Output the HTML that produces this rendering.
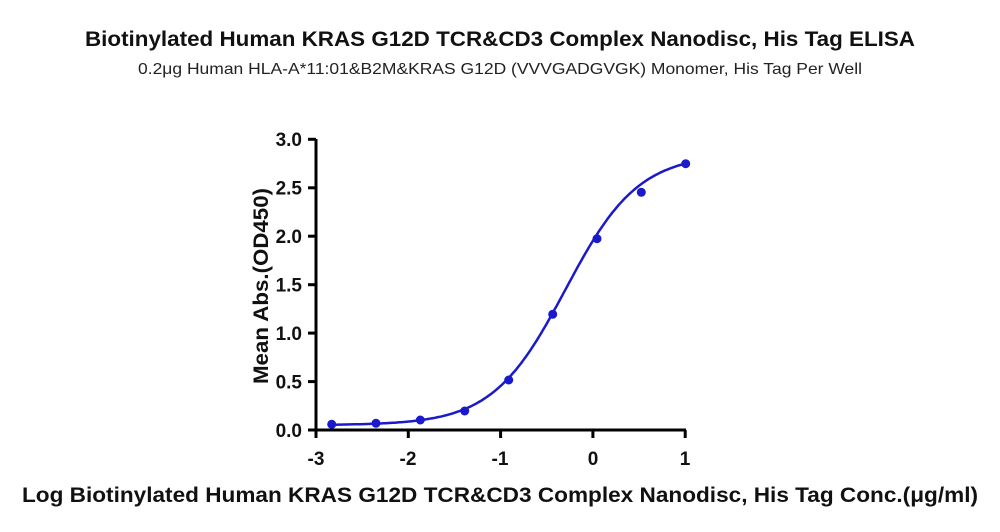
<!DOCTYPE html>
<html><head><meta charset="utf-8"><style>
body{margin:0;background:#fff;width:1000px;height:527px;overflow:hidden}
text{font-family:"Liberation Sans",sans-serif}
</style></head><body>
<svg id="s" width="1000" height="527" viewBox="0 0 1000 527" xmlns="http://www.w3.org/2000/svg">
<text x="500" y="46" text-anchor="middle" font-size="21" font-weight="bold" fill="#111" textLength="830" lengthAdjust="spacingAndGlyphs">Biotinylated Human KRAS G12D TCR&amp;CD3 Complex Nanodisc, His Tag ELISA</text>
<text x="500" y="74" text-anchor="middle" font-size="16" fill="#222" textLength="724" lengthAdjust="spacingAndGlyphs">0.2μg Human HLA-A*11:01&amp;B2M&amp;KRAS G12D (VVVGADGVGK) Monomer, His Tag Per Well</text>
<g stroke="#000" stroke-width="3" fill="none">
<line x1="316" y1="139" x2="316" y2="431.5"/>
<line x1="314.5" y1="430" x2="686" y2="430"/>
<line x1="308" y1="139.3" x2="316" y2="139.3"/>
<line x1="308" y1="187.8" x2="316" y2="187.8"/>
<line x1="308" y1="236.2" x2="316" y2="236.2"/>
<line x1="308" y1="284.7" x2="316" y2="284.7"/>
<line x1="308" y1="333.1" x2="316" y2="333.1"/>
<line x1="308" y1="381.6" x2="316" y2="381.6"/>
<line x1="308" y1="430" x2="316" y2="430"/>
<line x1="316" y1="430" x2="316" y2="438"/>
<line x1="408.3" y1="430" x2="408.3" y2="438"/>
<line x1="500.6" y1="430" x2="500.6" y2="438"/>
<line x1="592.9" y1="430" x2="592.9" y2="438"/>
<line x1="685.2" y1="430" x2="685.2" y2="438"/>
</g>
<g font-size="19" font-weight="bold" text-anchor="end" fill="#111">
<text x="302" y="146">3.0</text><text x="302" y="194.5">2.5</text><text x="302" y="243">2.0</text>
<text x="302" y="291.5">1.5</text><text x="302" y="340">1.0</text><text x="302" y="388.5">0.5</text><text x="302" y="437">0.0</text>
</g>
<g font-size="19" font-weight="bold" text-anchor="middle" fill="#111">
<text x="316" y="465">-3</text><text x="408" y="465">-2</text><text x="500" y="465">-1</text><text x="593" y="465">0</text><text x="685" y="465">1</text>
</g>
<text transform="translate(268,286) rotate(-90)" text-anchor="middle" font-size="21" font-weight="bold" fill="#111" textLength="196" lengthAdjust="spacingAndGlyphs">Mean Abs.(OD450)</text>
<text x="500" y="502" text-anchor="middle" font-size="21" font-weight="bold" fill="#111" textLength="956" lengthAdjust="spacingAndGlyphs">Log Biotinylated Human KRAS G12D TCR&amp;CD3 Complex Nanodisc, His Tag Conc.(μg/ml)</text>
<path id="c" fill="none" stroke="#1a1acc" stroke-width="2.5"/>
<g fill="#1a1acc">
<circle cx="331.7" cy="424.3" r="4.5"/><circle cx="376" cy="423.3" r="4.5"/><circle cx="420.3" cy="420" r="4.5"/>
<circle cx="464.7" cy="411" r="4.5"/><circle cx="508.7" cy="380" r="4.5"/><circle cx="552.7" cy="314.3" r="4.5"/>
<circle cx="597" cy="238.7" r="4.5"/><circle cx="641.3" cy="192.3" r="4.5"/><circle cx="685.7" cy="163.7" r="4.5"/>
</g>
</svg>
<script>
var d="";for(var i=0;i<=200;i++){var x=-2.82+i*(3.82/200);var y=0.05+2.8/(1+Math.pow(10,(-0.3-x)*1.1));
var px=316+(x+3)*92.4, py=430-y*96.9;d+=(i?"L":"M")+px.toFixed(1)+" "+py.toFixed(1);}
document.getElementById("c").setAttribute("d",d);
</script>
</body></html>
